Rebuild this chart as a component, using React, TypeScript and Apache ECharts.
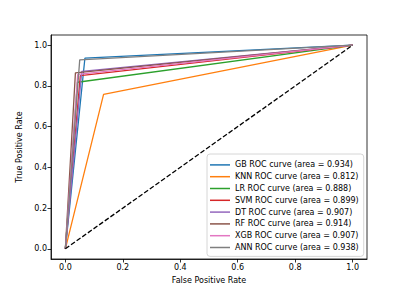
import React, { useEffect, useRef } from "react";
import * as echarts from "echarts";

const models = ["GB", "KNN", "LR", "SVM", "DT", "RF", "XGB", "ANN"];
const aucs = ["0.934", "0.812", "0.888", "0.899", "0.907", "0.914", "0.907", "0.938"];
const fprs = [0.068, 0.133, 0.042, 0.052, 0.057, 0.035, 0.043, 0.05];
const tprs = [0.936, 0.758, 0.818, 0.85, 0.871, 0.864, 0.857, 0.928];
const colors = ["#1f77b4", "#ff7f0e", "#2ca02c", "#d62728", "#9467bd", "#8c564b", "#e377c2", "#7f7f7f"];
const tickValues = [0, 0.2, 0.4, 0.6, 0.8, 1.0];

export default function App() {
  const ref = useRef<HTMLDivElement>(null);
  useEffect(() => {
    if (!ref.current) return;
    const chart = echarts.init(ref.current, null, { renderer: "svg" });
    const font = "DejaVu Sans";
    const fs = 8;
    const names = models.map((m, i) => `${m} ROC curve (area = ${aucs[i]})`);
    const series: any[] = models.map((m, i) => ({
      name: names[i],
      type: "line",
      data: [[0, 0], [fprs[i], tprs[i]], [1, 1]],
      showSymbol: false,
      symbol: "none",
      lineStyle: { color: colors[i], width: 1.3 },
      itemStyle: { color: colors[i] },
      z: 2 + i,
    }));
    series.push({
      name: "diag",
      type: "line",
      data: [[0, 0], [1, 1]],
      symbol: "none",
      lineStyle: { color: "#000", width: 1.3, type: [4.8, 2.1] },
      z: 20,
    });
    const axisCommon = (name: string, gap: number) => ({
      type: "value",
      min: -0.05,
      max: 1.05,
      name,
      nameLocation: "middle",
      nameGap: gap,
      nameTextStyle: { fontFamily: font, fontSize: fs, color: "#000" },
      splitLine: { show: false },
      axisLine: { show: true, onZero: false, lineStyle: { color: "#000", width: 0.8 } },
      axisTick: { show: true, length: 3.5, customValues: tickValues, lineStyle: { color: "#000", width: 0.8 } },
      axisLabel: {
        customValues: tickValues,
        fontFamily: font,
        fontSize: fs,
        color: "#000",
        margin: 4,
        formatter: (v: number) => v.toFixed(1),
      },
    });
    chart.setOption({
      animation: false,
      grid: { left: 51, right: 40, top: 35, bottom: 32, show: true, borderColor: "#000", borderWidth: 0.8, containLabel: false },
      xAxis: axisCommon("False Positive Rate", 17),
      yAxis: axisCommon("True Positive Rate", 23),
      legend: {
        data: names,
        orient: "vertical",
        left: 207,
        top: 154,
        padding: [6, 5, 4, 3],
        backgroundColor: "rgba(255,255,255,0.8)",
        borderColor: "#ccc",
        borderWidth: 0.8,
        borderRadius: 3,
        itemWidth: 20,
        itemHeight: 1.5,
        itemGap: 2,
        icon: "rect",
        textStyle: { fontFamily: font, fontSize: fs, color: "#000", lineHeight: 9.8, padding: [0, 0, 0, 0] },
      },
      series,
    });
    return () => chart.dispose();
  }, []);
  return <div ref={ref} style={{ width: 407, height: 291, position: "absolute", left: 0, top: 0 }} />;
}
